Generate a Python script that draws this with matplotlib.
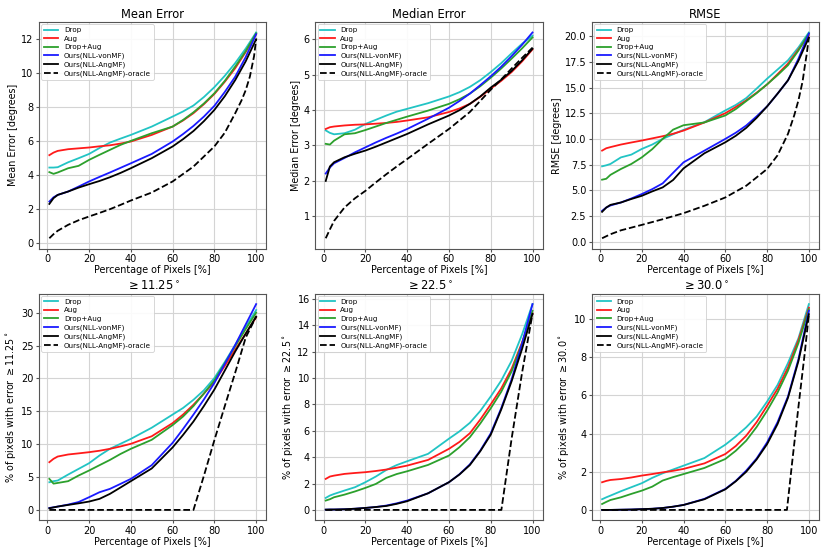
import matplotlib
matplotlib.use("Agg")
import matplotlib.pyplot as plt

# ---------------- data ----------------
X = [1, 3, 5, 10, 15, 20, 25, 30, 35, 40, 50, 60, 65, 70, 75, 80, 85, 90, 95, 100]

labels = ["Drop", "Aug", "Drop+Aug", "Ours(NLL-vonMF)", "Ours(NLL-AngMF)",
          "Ours(NLL-AngMF)-oracle"]

# Mean Error
mean_drop = [4.45, 4.45, 4.47, 4.76, 5.0, 5.25, 5.6, 5.92, 6.15, 6.37, 6.86, 7.45, 7.75, 8.1, 8.6, 9.18, 9.85, 10.6, 11.45, 12.4]
mean_aug = [5.18, 5.33, 5.43, 5.53, 5.58, 5.63, 5.7, 5.76, 5.86, 5.98, 6.37, 6.86, 7.22, 7.65, 8.18, 8.78, 9.5, 10.3, 11.25, 12.3]
mean_dropaug = [4.18, 4.08, 4.16, 4.41, 4.55, 4.9, 5.2, 5.49, 5.78, 6.02, 6.47, 6.86, 7.25, 7.7, 8.22, 8.82, 9.55, 10.4, 11.3, 12.35]
mean_vonmf = [2.45, 2.7, 2.84, 3.04, 3.33, 3.63, 3.9, 4.16, 4.43, 4.7, 5.25, 5.98, 6.42, 6.9, 7.45, 8.08, 8.9, 9.8, 10.95, 12.3]
mean_angmf = [2.31, 2.65, 2.84, 3.04, 3.27, 3.47, 3.66, 3.88, 4.13, 4.41, 5.0, 5.69, 6.12, 6.6, 7.18, 7.84, 8.65, 9.6, 10.7, 12.0]
mean_oracle_x = [1, 3, 5, 10, 15, 20, 25, 30, 35, 40, 50, 60, 70, 80, 85, 90, 93, 95, 97, 98, 99, 100]
mean_oracle = [0.29, 0.53, 0.73, 1.08, 1.35, 1.57, 1.78, 2.0, 2.25, 2.51, 2.98, 3.63, 4.51, 5.69, 6.5, 7.65, 8.4, 9.0, 9.8, 10.4, 11.0, 12.0]

# Median Error
med_drop = [3.42, 3.35, 3.31, 3.34, 3.44, 3.6, 3.72, 3.84, 3.95, 4.03, 4.19, 4.38, 4.5, 4.65, 4.84, 5.07, 5.32, 5.6, 5.87, 6.1]
med_aug = [3.46, 3.51, 3.53, 3.56, 3.58, 3.59, 3.61, 3.63, 3.66, 3.70, 3.79, 3.94, 4.04, 4.17, 4.37, 4.6, 4.82, 5.07, 5.37, 5.71]
med_dropaug = [3.04, 3.02, 3.13, 3.31, 3.34, 3.43, 3.53, 3.63, 3.72, 3.81, 3.98, 4.17, 4.3, 4.46, 4.67, 4.91, 5.17, 5.45, 5.74, 6.05]
med_vonmf = [2.2, 2.37, 2.49, 2.64, 2.8, 2.94, 3.08, 3.21, 3.33, 3.46, 3.75, 4.06, 4.25, 4.46, 4.7, 4.95, 5.22, 5.52, 5.84, 6.19]
med_angmf = [1.99, 2.4, 2.52, 2.66, 2.76, 2.85, 2.96, 3.08, 3.2, 3.32, 3.59, 3.84, 3.99, 4.17, 4.38, 4.63, 4.85, 5.1, 5.4, 5.73]
med_oracle_x = [1, 3, 5, 10, 15, 20, 25, 30, 35, 40, 50, 60, 70, 80, 85, 90, 95, 100]
med_oracle = [0.37, 0.62, 0.86, 1.24, 1.5, 1.71, 1.95, 2.18, 2.4, 2.61, 3.04, 3.46, 3.94, 4.57, 4.86, 5.17, 5.47, 5.76]

# RMSE
rmse_drop = [7.33, 7.43, 7.56, 8.2, 8.47, 9.02, 9.45, 10.0, 10.45, 10.88, 11.63, 12.77, 13.3, 13.97, 14.9, 15.86, 16.75, 17.65, 18.9, 20.36]
rmse_aug = [8.86, 9.09, 9.2, 9.45, 9.65, 9.84, 10.05, 10.26, 10.5, 10.81, 11.6, 12.5, 13.1, 13.75, 14.5, 15.3, 16.3, 17.33, 18.7, 20.1]
rmse_dropaug = [6.03, 6.12, 6.5, 7.07, 7.56, 8.2, 9.0, 10.0, 10.9, 11.33, 11.6, 12.28, 12.9, 13.68, 14.45, 15.31, 16.2, 17.17, 18.6, 20.26]
rmse_vonmf = [3.0, 3.32, 3.52, 3.81, 4.2, 4.63, 5.11, 5.67, 6.7, 7.72, 8.86, 10.0, 10.6, 11.3, 12.2, 13.16, 14.4, 15.7, 17.8, 20.26]
rmse_angmf = [2.9, 3.32, 3.58, 3.81, 4.15, 4.46, 4.89, 5.28, 6.0, 7.13, 8.6, 9.67, 10.3, 11.07, 12.05, 13.16, 14.4, 15.7, 17.6, 19.87]
rmse_oracle_x = [1, 5, 10, 20, 30, 40, 50, 60, 70, 80, 85, 90, 93, 95, 97, 98, 99, 100]
rmse_oracle = [0.33, 0.72, 1.1, 1.63, 2.18, 2.77, 3.49, 4.3, 5.44, 7.07, 8.4, 10.49, 12.3, 13.75, 15.6, 17.0, 18.3, 19.9]

# >= 11.25
t11_drop = [4.21, 4.37, 4.47, 5.38, 6.24, 7.1, 8.27, 9.29, 10.05, 10.8, 12.5, 14.5, 15.5, 16.75, 18.2, 20.05, 22.5, 25.1, 27.8, 30.4]
t11_aug = [7.26, 7.77, 8.12, 8.43, 8.6, 8.78, 9.0, 9.29, 9.65, 10.05, 11.2, 13.2, 14.5, 16.0, 17.7, 19.5, 21.9, 24.4, 26.8, 29.3]
t11_dropaug = [4.72, 4.0, 4.1, 4.37, 5.23, 5.99, 6.8, 7.6, 8.5, 9.29, 10.66, 12.9, 14.2, 15.8, 17.7, 19.7, 22.3, 24.9, 27.5, 30.0]
t11_vonmf = [0.3, 0.4, 0.51, 0.81, 1.2, 1.93, 2.69, 3.2, 3.95, 4.72, 6.8, 10.2, 12.3, 14.5, 16.8, 19.3, 22.2, 25.1, 28.2, 31.3]
t11_angmf = [0.25, 0.38, 0.51, 0.76, 1.0, 1.27, 1.68, 2.44, 3.4, 4.37, 6.3, 9.5, 11.4, 13.45, 15.8, 18.3, 21.2, 24.1, 26.8, 29.4]
t11_oracle_x = [1, 70, 75, 80, 85, 90, 95, 100]
t11_oracle = [0, 0, 5.2, 10.6, 15.8, 20.9, 26.2, 29.4]

# >= 22.5
t22_drop = [0.91, 1.09, 1.21, 1.47, 1.72, 2.1, 2.53, 3.03, 3.4, 3.69, 4.25, 5.4, 5.95, 6.6, 7.5, 8.6, 9.8, 11.3, 13.3, 15.6]
t22_aug = [2.35, 2.53, 2.6, 2.73, 2.8, 2.86, 2.95, 3.06, 3.2, 3.36, 3.79, 4.63, 5.15, 5.81, 6.85, 8.0, 9.2, 10.7, 12.7, 14.9]
t22_dropaug = [0.71, 0.81, 0.96, 1.16, 1.4, 1.67, 1.97, 2.43, 2.72, 2.93, 3.41, 4.12, 4.75, 5.51, 6.55, 7.7, 8.95, 10.5, 12.6, 15.1]
t22_vonmf = [0.02, 0.03, 0.03, 0.05, 0.09, 0.15, 0.22, 0.33, 0.5, 0.71, 1.26, 2.1, 2.7, 3.45, 4.5, 5.8, 7.7, 9.9, 12.6, 15.6]
t22_angmf = [0.02, 0.03, 0.03, 0.05, 0.09, 0.15, 0.22, 0.3, 0.46, 0.66, 1.26, 2.1, 2.68, 3.4, 4.45, 5.7, 7.6, 9.75, 12.2, 14.86]
t22_oracle_x = [1, 85.1, 90, 95, 100]
t22_oracle = [0, 0, 5.4, 10.4, 14.86]

# >= 30.0
t30_drop = [0.56, 0.66, 0.75, 0.98, 1.19, 1.4, 1.68, 1.92, 2.12, 2.32, 2.72, 3.42, 3.85, 4.33, 4.9, 5.68, 6.55, 7.7, 9.0, 10.79]
t30_aug = [1.45, 1.52, 1.57, 1.62, 1.7, 1.8, 1.88, 1.97, 2.05, 2.15, 2.44, 2.93, 3.35, 3.89, 4.6, 5.46, 6.35, 7.47, 8.9, 10.6]
t30_dropaug = [0.31, 0.42, 0.52, 0.66, 0.84, 1.01, 1.22, 1.54, 1.72, 1.88, 2.2, 2.67, 3.1, 3.63, 4.35, 5.2, 6.15, 7.3, 8.75, 10.52]
t30_vonmf = [0.0, 0.0, 0.0, 0.01, 0.02, 0.04, 0.06, 0.1, 0.17, 0.26, 0.58, 1.1, 1.52, 2.06, 2.7, 3.54, 4.6, 5.95, 7.9, 10.44]
t30_angmf = [0.0, 0.0, 0.0, 0.01, 0.02, 0.04, 0.06, 0.1, 0.17, 0.26, 0.56, 1.08, 1.5, 2.0, 2.65, 3.45, 4.5, 5.88, 7.8, 10.26]
t30_oracle_x = [1, 89.5, 92, 95, 98, 100]
t30_oracle = [0, 0, 2.5, 5.4, 8.2, 10.26]

titles = ["Mean Error", "Median Error", "RMSE",
          r"$\geq 11.25^\circ$", r"$\geq 22.5^\circ$", r"$\geq 30.0^\circ$"]
ylabels = ["Mean Error [degrees]", "Median Error [degrees]", "RMSE [degrees]",
           r"% of pixels with error $\geq 11.25^\circ$",
           r"% of pixels with error $\geq 22.5^\circ$",
           r"% of pixels with error $\geq 30.0^\circ$"]
xlabel = "Percentage of Pixels [%]"

panels = [
    (mean_drop, mean_aug, mean_dropaug, mean_vonmf, mean_angmf, mean_oracle_x, mean_oracle),
    (med_drop, med_aug, med_dropaug, med_vonmf, med_angmf, med_oracle_x, med_oracle),
    (rmse_drop, rmse_aug, rmse_dropaug, rmse_vonmf, rmse_angmf, rmse_oracle_x, rmse_oracle),
    (t11_drop, t11_aug, t11_dropaug, t11_vonmf, t11_angmf, t11_oracle_x, t11_oracle),
    (t22_drop, t22_aug, t22_dropaug, t22_vonmf, t22_angmf, t22_oracle_x, t22_oracle),
    (t30_drop, t30_aug, t30_dropaug, t30_vonmf, t30_angmf, t30_oracle_x, t30_oracle),
]

colors = ["#22c4c4", "#ff1a1a", "#2ca02c", "#1a1aff", "black", "black"]

# ---------------- plot ----------------
plt.rcParams["font.family"] = ["DejaVu Sans"]
fig, axes = plt.subplots(2, 3, figsize=(8.3, 5.54), dpi=100)
fig.subplots_adjust(left=0.047, right=0.987, top=0.960, bottom=0.061,
                    wspace=0.215, hspace=0.2)

for ax, data, title, ylab in zip(axes.flat, panels, titles, ylabels):
    drop, aug, dropaug, vonmf, angmf, ox, oy = data
    series = [drop, aug, dropaug, vonmf, angmf]
    for s, c, lab in zip(series, colors[:5], labels[:5]):
        ax.plot(X, s, color=c, lw=1.3, label=lab)
    ax.plot(ox, oy, color="black", lw=1.3, ls="--", label=labels[5])
    ax.set_title(title, fontsize=8.3, pad=3)
    ax.set_ylabel(ylab, fontsize=6.9, labelpad=2)
    ax.set_xlabel(xlabel, fontsize=6.9, labelpad=1)
    ax.set_xticks([0, 20, 40, 60, 80, 100])
    ax.tick_params(labelsize=7, length=2, pad=2, color="#555555")
    ax.grid(True, color="#d4d4d4", lw=0.8)
    for sp in ax.spines.values():
        sp.set_color("#555555")
        sp.set_linewidth(0.8)
    leg = ax.legend(loc="upper left", fontsize=5.1, labelspacing=0.35,
                    borderaxespad=0.3, handlelength=2.0, borderpad=0.4,
                    framealpha=0.9, fancybox=True)
    leg.get_frame().set_linewidth(0.6)

fig.savefig("out.png", dpi=100)
